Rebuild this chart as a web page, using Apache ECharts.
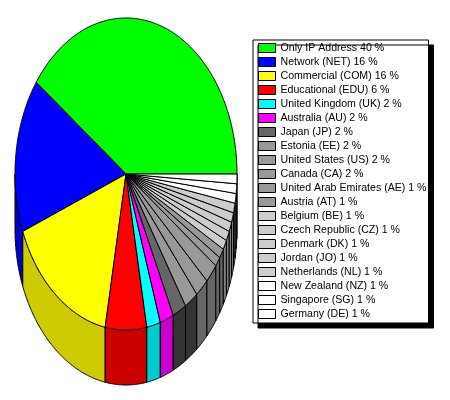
<!DOCTYPE html>
<html><head><meta charset="utf-8">
<script src="https://cdn.jsdelivr.net/npm/echarts@6.0.0/dist/echarts.min.js"></script>
<style>html,body{margin:0;padding:0;background:#fff}#c{width:450px;height:400px}</style>
</head><body><div id="c"></div>
<script>
const categories = ['Only IP Address','Network (NET)','Commercial (COM)','Educational (EDU)','United Kingdom (UK)','Australia (AU)','Japan (JP)','Estonia (EE)','United States (US)','Canada (CA)','United Arab Emirates (AE)','Austria (AT)','Belgium (BE)','Czech Republic (CZ)','Denmark (DK)','Jordan (JO)','Netherlands (NL)','New Zealand (NZ)','Singapore (SG)','Germany (DE)'];
const values = [40,16,16,6,2,2,2,2,2,2,1,1,1,1,1,1,1,1,1,1];

const topColors = ['#00ff00','#0000ff','#ffff00','#ff0000','#00ffff','#ff00ff','#666666','#999999','#999999','#999999','#999999','#999999','#cccccc','#cccccc','#cccccc','#cccccc','#cccccc','#ffffff','#ffffff','#ffffff'];
const sideColors = ['#00cc00','#0000cc','#cccc00','#cc0000','#00cccc','#cc00cc','#333333','#333333','#666666','#666666','#666666','#666666','#808080','#808080','#808080','#808080','#808080','#999999','#999999','#999999'];

const total = values.reduce((a, b) => a + b, 0);
const starts = [];
let acc = 0;
values.forEach(v => { starts.push(acc); acc += v; });

const PIE = { cx: 126, cy: 174, rx: 111, ry: 156, depth: 55 };

function renderItem(params, api) {
  const i = params.dataIndex;
  const v = api.value(1);
  const { cx, cy, rx, ry, depth } = PIE;
  const a0 = starts[i] / total * 360;
  const a1 = (starts[i] + v) / total * 360;
  const pt = (deg, dy) => {
    const r = deg * Math.PI / 180;
    return [cx + rx * Math.cos(r), cy - ry * Math.sin(r) + dy];
  };
  const arc = (s, e, dy) => {
    const pts = [];
    const n = Math.max(2, Math.ceil((e - s) / 0.5));
    for (let k = 0; k <= n; k++) pts.push(pt(s + (e - s) * k / n, dy));
    return pts;
  };
  const children = [];
  const s = Math.max(a0, 180), e = Math.min(a1, 360);
  if (e > s) {
    const top = arc(s, e, 0), bot = arc(s, e, depth).reverse();
    children.push({
      type: 'polygon', z2: 1,
      shape: { points: top.concat(bot) },
      style: { fill: sideColors[i], stroke: '#000', lineWidth: 1 }
    });
  }
  children.push({
    type: 'polygon', z2: 2,
    shape: { points: [[cx, cy]].concat(arc(a0, a1, 0)) },
    style: { fill: topColors[i], stroke: '#000', lineWidth: 1 }
  });
  return { type: 'group', children };
}

const chart = echarts.init(document.getElementById('c'), null, { renderer: 'canvas' });
chart.setOption({
  animation: false,
  backgroundColor: '#fff',
  legend: {
    orient: 'vertical',
    left: 253, top: 40,
    data: categories,
    selectedMode: false,
    icon: 'rect',
    itemWidth: 17, itemHeight: 9, itemGap: 0,
    padding: [1, 2, 2, 5],
    backgroundColor: '#fff',
    borderColor: '#000', borderWidth: 1,
    shadowColor: '#000', shadowOffsetX: 5, shadowOffsetY: 5, shadowBlur: 0,
    textStyle: { fontFamily: 'Liberation Sans, Arial, sans-serif', fontSize: 10.6, color: '#000', lineHeight: 14 },
    itemStyle: { borderColor: '#000', borderWidth: 1 },
    formatter: n => n + ' ' + values[categories.indexOf(n)] + ' %'
  },
  series: [
    {
      type: 'pie',
      name: 'legendSource',
      center: [-500, -500],
      radius: [0, 1],
      silent: true,
      label: { show: false }, labelLine: { show: false },
      data: categories.map((n, i) => ({ name: n, value: values[i], itemStyle: { color: topColors[i] } }))
    },
    {
      type: 'custom',
      name: 'pie3d',
      coordinateSystem: 'none',
      silent: true,
      renderItem: renderItem,
      data: values.map((v, i) => ({ name: categories[i], value: [i, v] }))
    }
  ]
});
</script></body></html>
